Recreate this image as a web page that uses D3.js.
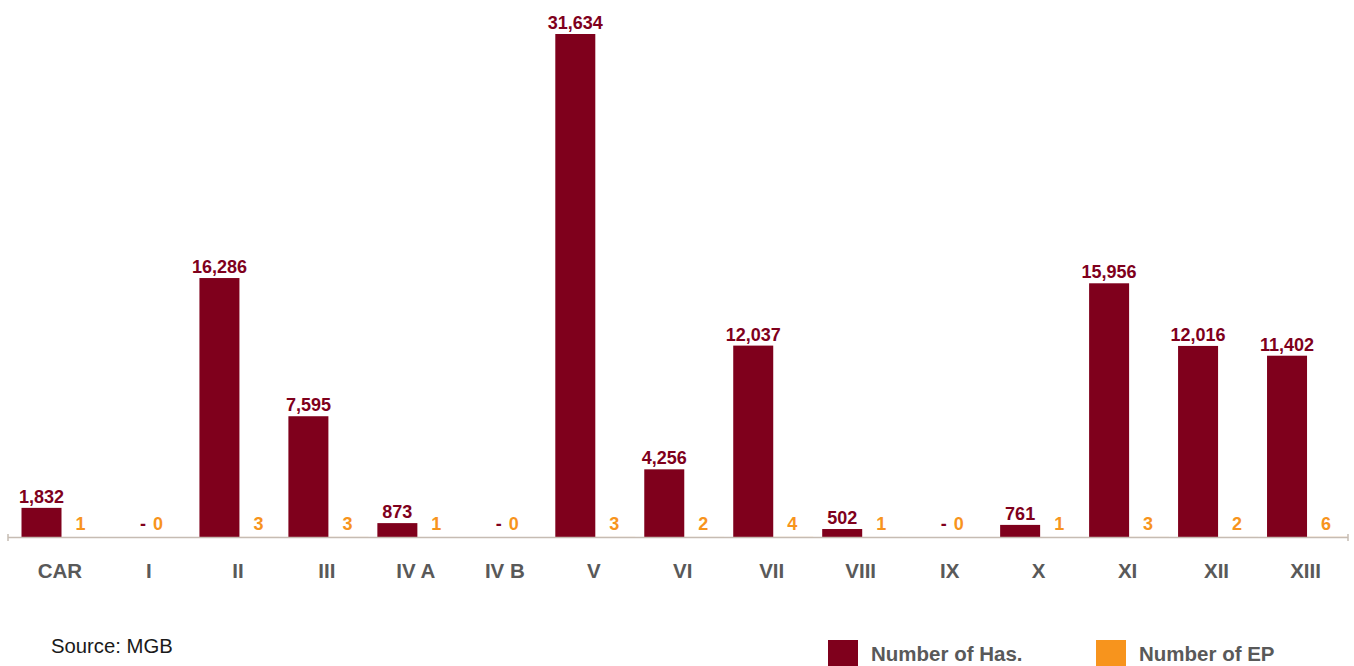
<!DOCTYPE html>
<html><head><meta charset="utf-8">
<script src="https://cdn.jsdelivr.net/npm/d3@7"></script>
<style>
html,body{margin:0;padding:0;background:#fff;}
svg{display:block;font-family:"Liberation Sans",Arial,Helvetica,sans-serif;}
</style></head>
<body>
<svg id="chart" width="1354" height="666"></svg>
<script>
const categories = ["CAR","I","II","III","IV A","IV B","V","VI","VII","VIII","IX","X","XI","XII","XIII"];
const hasValues = [1832,0,16286,7595,873,0,31634,4256,12037,502,0,761,15956,12016,11402];
const epValues = [1,0,3,3,1,0,3,2,4,1,0,1,3,2,6];
const seriesNames = ["Number of Has.","Number of EP"];
const sourceText = "Source: MGB";

const colors = {has:"#7f001c", ep:"#f7941d"};
const svg = d3.select("#chart");

const x = d3.scaleBand().domain(categories).range([15.5, 1350]).padding(0);
const xSub = d3.scaleBand().domain(["has","ep"]).range([6, 86]).padding(0);
const y = d3.scaleLinear().domain([0, 31634]).range([537, 34]);
const fmt = d3.format(",");

const data = categories.map((c,i)=>({cat:c, has:hasValues[i], ep:epValues[i]}));

// Has bars
svg.append("g").selectAll("rect").data(data).join("rect")
  .attr("x", d=>x(d.cat)+xSub("has"))
  .attr("y", d=>y(d.has))
  .attr("width", xSub.bandwidth())
  .attr("height", d=>y(0)-y(d.has))
  .attr("fill", colors.has);

// EP bars (same scale)
svg.append("g").selectAll("rect").data(data).join("rect")
  .attr("x", d=>x(d.cat)+xSub("ep"))
  .attr("y", d=>y(d.ep))
  .attr("width", xSub.bandwidth())
  .attr("height", d=>y(0)-y(d.ep))
  .attr("fill", colors.ep);

// axis line
const axisG = svg.append("g");
axisG.append("line").attr("x1",8).attr("x2",1348).attr("y1",y(0)+0.5).attr("y2",y(0)+0.5)
  .attr("stroke","#c6bcb3").attr("stroke-width",1.5);
[8,1348].forEach(px=>axisG.append("line").attr("x1",px).attr("x2",px).attr("y1",y(0)-3).attr("y2",y(0)+4)
  .attr("stroke","#c6bcb3").attr("stroke-width",1.5));

// category labels
svg.append("g").selectAll("text").data(categories).join("text")
  .attr("x", d=>x(d)+x.bandwidth()/2)
  .attr("y", 578)
  .attr("text-anchor","middle")
  .attr("font-size",20.5).attr("font-weight","bold").attr("fill","#595959")
  .text(d=>d);

// Has value labels
svg.append("g").selectAll("text").data(data).join("text")
  .attr("x", d=> d.has>0 ? x(d.cat)+xSub("has")+xSub.bandwidth()/2 : x(d.cat)+x.bandwidth()/2-6)
  .attr("y", d=> d.has>0 ? y(d.has)-5 : 530)
  .attr("text-anchor","middle")
  .attr("font-size",18).attr("font-weight","bold").attr("fill",colors.has)
  .text(d=> d.has>0 ? fmt(d.has) : "-");

// EP value labels
svg.append("g").selectAll("text").data(data).join("text")
  .attr("x", d=> d.has>0 ? x(d.cat)+xSub("ep")+xSub.bandwidth()/2-1 : x(d.cat)+x.bandwidth()/2+9)
  .attr("y", 530)
  .attr("text-anchor","middle")
  .attr("font-size",18).attr("font-weight","bold").attr("fill",colors.ep)
  .text(d=>d.ep);

// source
svg.append("text").attr("x",51).attr("y",653).attr("font-size",20.3).attr("fill","#1a1a1a").text(sourceText);

// legend
const legendX = [828, 1096];
const lg = svg.append("g").selectAll("g").data(seriesNames).join("g")
  .attr("transform",(d,i)=>`translate(${legendX[i]},640)`);
lg.append("rect").attr("width",30).attr("height",30).attr("fill",(d,i)=>i===0?colors.has:colors.ep);
lg.append("text").attr("x",43).attr("y",21).attr("font-size",20.5).attr("font-weight","bold").attr("fill","#595959").text(d=>d);
</script>
</body></html>
